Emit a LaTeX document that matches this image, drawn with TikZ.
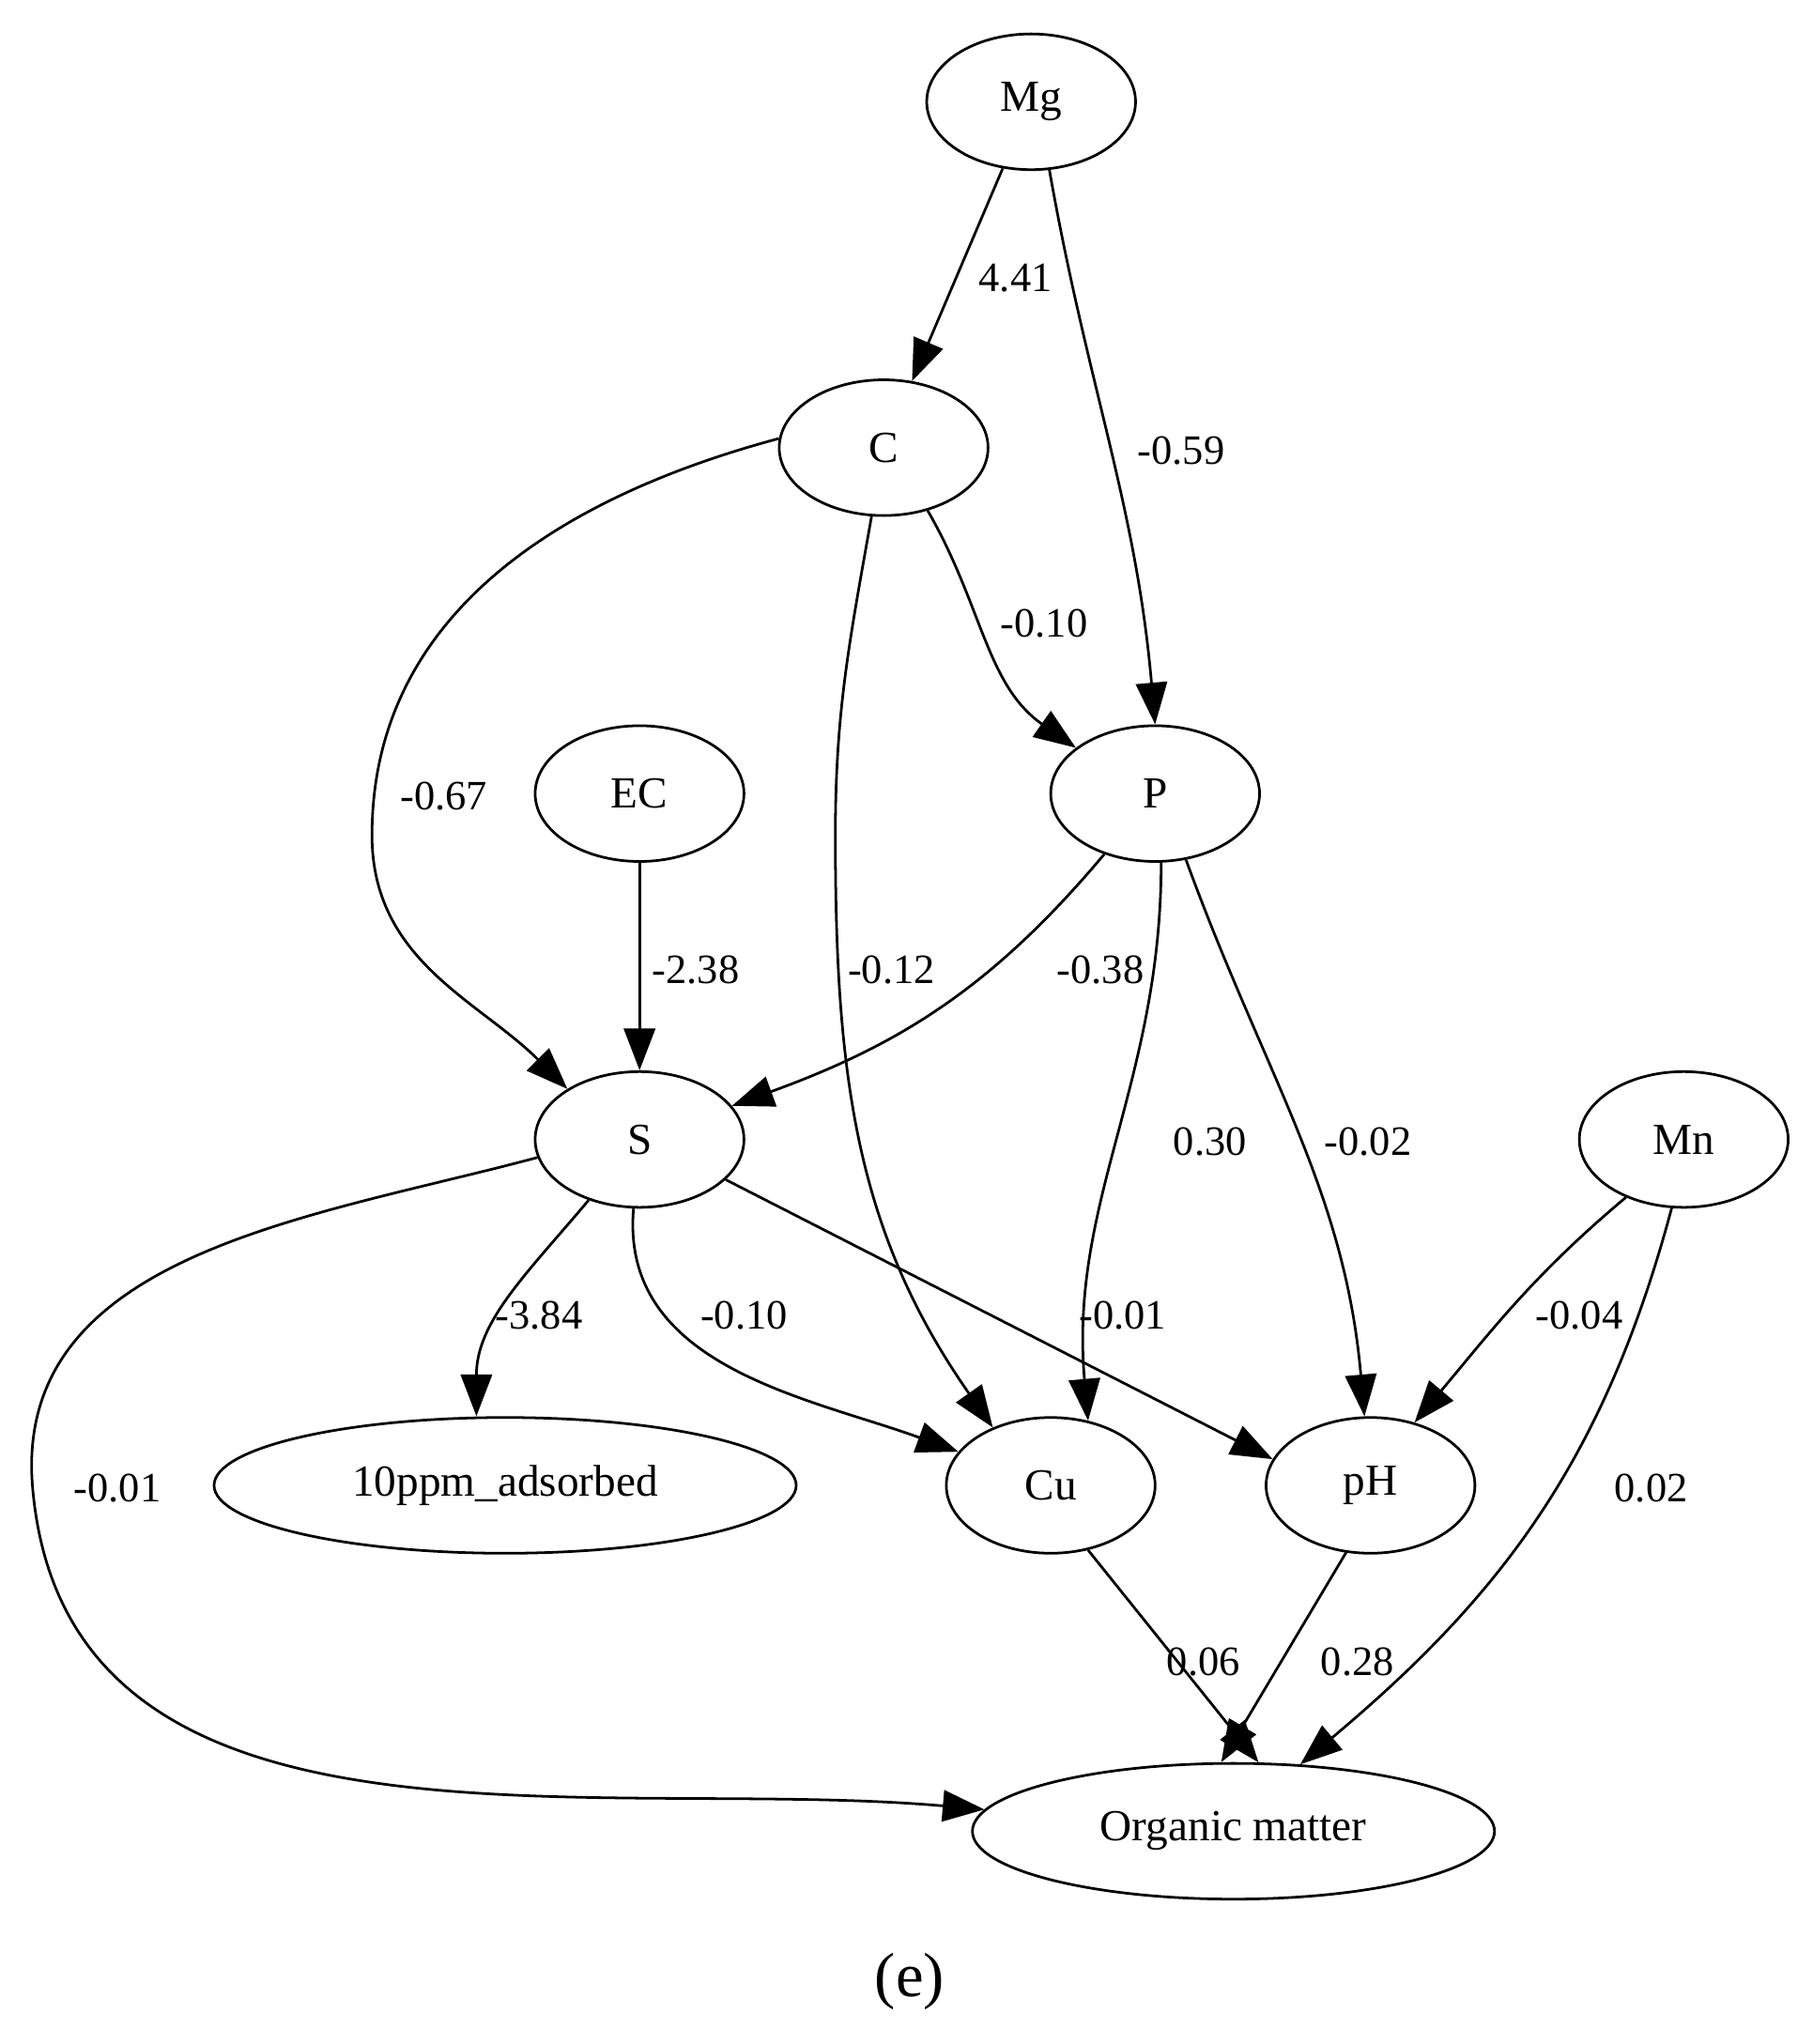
\documentclass[tikz,border=0pt]{standalone}
\usepackage{fontspec}
\setmainfont{Liberation Serif}
\usetikzlibrary{arrows.meta,shapes.geometric}
\begin{document}
\begin{tikzpicture}[x=0.5pt,y=-0.5pt,
  nd/.style={ellipse,draw,line width=1pt,minimum height=52pt,font=\fontsize{17}{17}\selectfont},
  lb/.style={font=\fontsize{16}{16}\selectfont,inner sep=0pt},
  ed/.style={line width=1pt,-{Triangle[length=16pt,width=12pt]}}]
\useasboundingbox (0,0) rectangle (1389,1566);
\node[nd,minimum width=80pt] (mg) at (790,78) {Mg};
\node[nd,minimum width=80pt] (c) at (677,343) {C};
\node[nd,minimum width=80pt] (ec) at (490,608) {EC};
\node[nd,minimum width=80pt] (p) at (885,608) {P};
\node[nd,minimum width=80pt] (s) at (490,873) {S};
\node[nd,minimum width=80pt] (mn) at (1290,873) {Mn};
\node[nd,minimum width=223pt] (ppm) at (387,1138) {10ppm\_adsorbed};
\node[nd,minimum width=80pt] (cu) at (805,1138) {Cu};
\node[nd,minimum width=80pt] (ph) at (1050,1138) {pH};
\node[nd,minimum width=200pt] (om) at (945,1403) {Organic matter};
\node[font=\fontsize{24}{24}\selectfont] (cap) at (697,1518) {(e)};

\draw[ed] (mg) -- (c);
\draw[ed] (mg.-75) to[out=-80,in=95] (p.north);
\draw[ed] (c.-55) to[out=-60,in=145] (p.150);
\draw[ed] (c.175) to[out=195,in=90] (285,640) to[out=-90,in=135] (s.145);
\draw[ed] (c.-100) to[out=-100,in=90] (640,640) to[out=-90,in=125] (cu.135);
\draw[ed] (ec) -- (s);
\draw[ed] (p.-130) to[out=-130,in=20] (s.20);
\draw[ed] (p.-85) to[out=-90,in=95] (cu.60);
\draw[ed] (p.-65) to[out=-70,in=95] (ph.95);
\draw[ed] (mn.-135) to[out=-140,in=50] (ph.55);
\draw[ed] (mn.-100) to[out=-105,in=40] (om.45);
\draw[ed] (s.-130) to[out=-130,in=90] (ppm.north-|365,0);
\draw[ed] (s.-95) to[out=-95,in=160] (cu.160);
\draw[ed] (s.-25) -- (ph.165);
\draw[ed] (s.190) to[out=195,in=95] (25,1140) to[out=-85,in=175] (om.175);
\draw[ed] (cu.-60) -- (om.70);
\draw[ed] (ph.-110) -- (om.100);

\node[lb] (l1) at (778,213) {4.41};
\node[lb] (l2) at (905,345) {-0.59};
\node[lb] (l3) at (800,478) {-0.10};
\node[lb] (l4) at (340,610) {-0.67};
\node[lb] (l5) at (683,743) {-0.12};
\node[lb] (l6) at (533,743) {-2.38};
\node[lb] (l7) at (843,743) {-0.38};
\node[lb] (l8) at (927,875) {0.30};
\node[lb] (l9) at (1048,875) {-0.02};
\node[lb] (l10) at (1210,1008) {-0.04};
\node[lb] (l11) at (1265,1140) {0.02};
\node[lb] (l12) at (413,1008) {-3.84};
\node[lb] (l13) at (570,1008) {-0.10};
\node[lb] (l14) at (860,1008) {-0.01};
\node[lb] (l15) at (90,1140) {-0.01};
\node[lb] (l16) at (922,1273) {0.06};
\node[lb] (l17) at (1040,1273) {0.28};
\end{tikzpicture}
\end{document}
